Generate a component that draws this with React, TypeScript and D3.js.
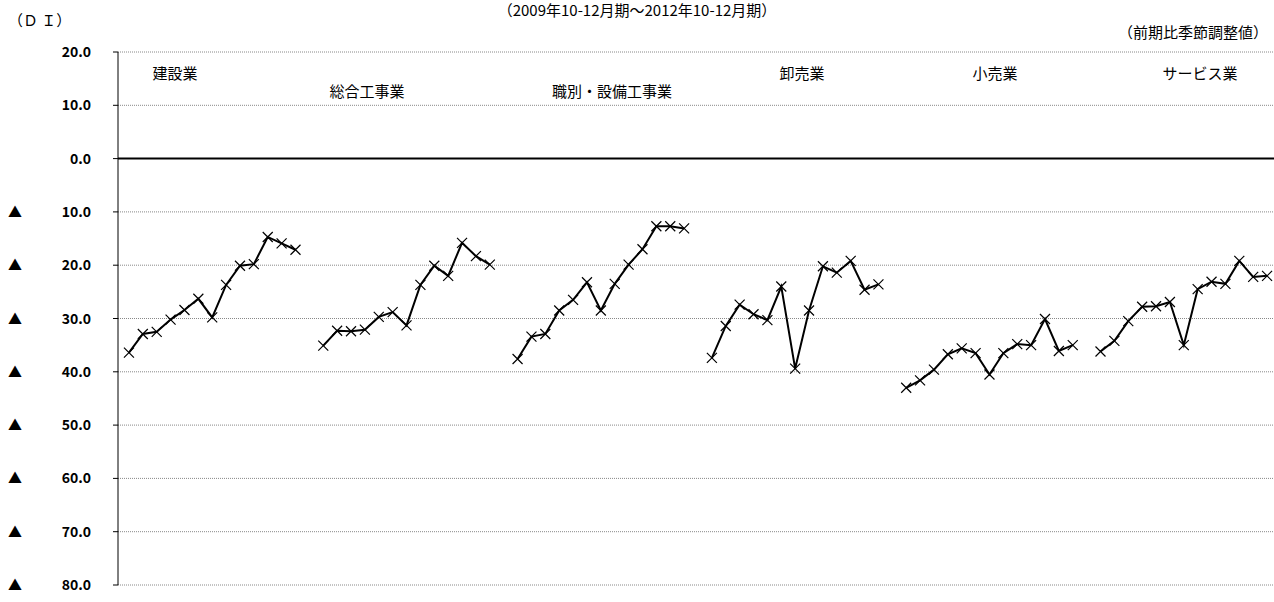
import React from "react";
import * as d3 from "d3";

const groups = ["建設業", "総合工事業", "職別・設備工事業", "卸売業", "小売業", "サービス業"];
const s1 = [-36.4, -32.9, -32.5, -30.2, -28.4, -26.3, -29.8, -23.7, -20.1, -19.8, -14.7, -15.9, -17.1];
const s2 = [-35.1, -32.3, -32.4, -32.1, -29.7, -28.8, -31.3, -23.7, -20.1, -22.0, -15.8, -18.3, -19.9];
const s3 = [-37.6, -33.4, -32.9, -28.5, -26.5, -23.2, -28.5, -23.5, -19.9, -17.0, -12.7, -12.7, -13.1];
const s4 = [-37.4, -31.4, -27.4, -29.2, -30.3, -24.0, -39.4, -28.5, -20.2, -21.4, -19.2, -24.6, -23.6];
const s5 = [-43.0, -41.6, -39.6, -36.7, -35.6, -36.5, -40.5, -36.5, -34.8, -35.0, -30.1, -36.1, -35.0];
const s6 = [-36.2, -34.2, -30.5, -27.8, -27.7, -26.9, -35.0, -24.5, -23.1, -23.5, -19.2, -22.2, -22.0];
const series = [s1, s2, s3, s4, s5, s6];
const yTicks = [20, 10, 0, -10, -20, -30, -40, -50, -60, -70, -80];
const labelPos = [[175, 79], [367, 97], [612, 97], [802, 79], [995, 79], [1200, 79]];

export default function App() {
  const W = 1274, H = 602;
  const nSlots = 6 * 13 + 5;
  const x = d3.scaleBand<number>().domain(d3.range(nSlots)).range([122, 1274]);
  const y = d3.scaleLinear().domain([-80, 20]).range([585, 52]);
  const cx = (g: number, i: number) => (x(g * 14 + i) as number) + x.bandwidth() / 2;
  const line = d3.line<number>();
  const font = "'Noto Sans CJK JP', sans-serif";
  return (
    <svg width={W} height={H} style={{ position: "absolute", left: 0, top: 0 }} fontFamily={font}>
      <rect width={W} height={H} fill="#fff" />
      <text x={637} y={16} textAnchor="middle" fontSize={15}>（2009年10-12月期～2012年10-12月期）</text>
      <text x={8} y={26} fontSize={15}>（Ｄ Ｉ）</text>
      <text x={1268} y={38} textAnchor="end" fontSize={15}>（前期比季節調整値）</text>
      {yTicks.map((t) => (
        <g key={t}>
          {t !== 0 && (
            <line x1={118} x2={1274} y1={y(t)} y2={y(t)} stroke="#888" strokeWidth={1} strokeDasharray="1 1" />
          )}
          <line x1={113} x2={118} y1={y(t)} y2={y(t)} stroke="#000" />
          {t < 0 && <text x={8} y={y(t) + 5} fontSize={14}>▲</text>}
          <text x={91} y={y(t) + 5} textAnchor="end" fontSize={14} fontWeight="bold">{Math.abs(t).toFixed(1)}</text>
        </g>
      ))}
      <line x1={118} x2={118} y1={y(20)} y2={y(-80)} stroke="#000" />
      <line x1={118} x2={1274} y1={y(0)} y2={y(0)} stroke="#000" strokeWidth={2} />
      {series.map((s, g) => (
        <g key={g}>
          <path d={line(s.map((v, i) => [cx(g, i), y(v)])) || ""} fill="none" stroke="#000" strokeWidth={2} />
          {s.map((v, i) => (
            <path key={i} d={`M${cx(g, i) - 5},${y(v) - 5}L${cx(g, i) + 5},${y(v) + 5}M${cx(g, i) - 5},${y(v) + 5}L${cx(g, i) + 5},${y(v) - 5}`} stroke="#000" strokeWidth={1.2} />
          ))}
          <text x={labelPos[g][0]} y={labelPos[g][1]} textAnchor="middle" fontSize={15}>{groups[g]}</text>
        </g>
      ))}
    </svg>
  );
}
